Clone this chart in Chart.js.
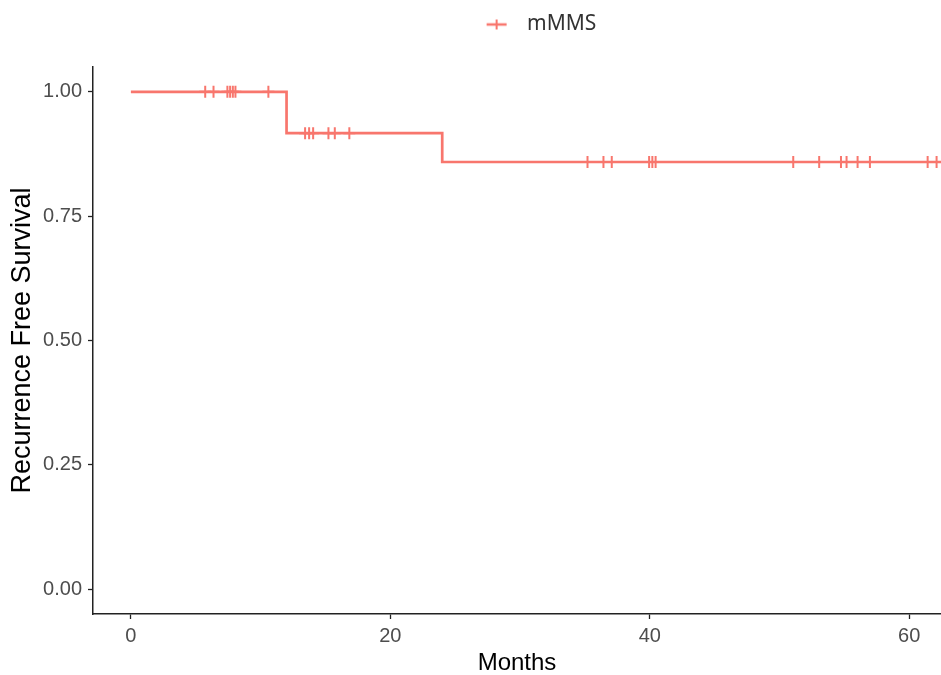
<!DOCTYPE html>
<html>
<head>
<meta charset="utf-8">
<script src="https://cdn.jsdelivr.net/npm/chart.js@4.4.1/dist/chart.umd.min.js"></script>
<style>
  html, body { margin: 0; padding: 0; background: #fff; }
  #km { display: block; }
</style>
</head>
<body>
<canvas id="km" width="941" height="675"></canvas>
<script>
// Kaplan-Meier, mMMS group
const groupName = 'mMMS';
const eventTimes = [0, 12, 24];
const survProb = [1, 0.917, 0.859];
const followUpEnd = 62.5;
const censorTimes = [5.73, 6.37, 7.44, 7.65, 7.86, 8.06, 10.6,
  13.43, 13.74, 14.05, 15.23, 15.72, 16.84,
  35.2, 36.43, 37.07, 39.95, 40.2, 40.45, 51.06, 53.06, 54.74, 55.17, 56.02, 56.97, 61.42, 62.11];
const xTicks = [0, 20, 40, 60];
const yTicks = [0, 0.25, 0.5, 0.75, 1];

const red = '#F8766D';

function survAt(t) {
  let s = survProb[0];
  eventTimes.forEach((et, i) => { if (et <= t) s = survProb[i]; });
  return s;
}

let curve = eventTimes.map((t, i) => ({x: t, y: survProb[i]}));
curve.push({x: followUpEnd, y: survProb[survProb.length - 1]});
let censored = censorTimes.map(t => ({x: t, y: survAt(t)}));

// legend key: line with a cross
const icon = document.createElement('canvas');
icon.width = 40; icon.height = 14;
const ic = icon.getContext('2d');
ic.strokeStyle = red;
ic.lineWidth = 2.5;
ic.beginPath(); ic.moveTo(10, 7); ic.lineTo(30, 7); ic.stroke();
ic.lineWidth = 2;
ic.beginPath(); ic.moveTo(20, 2); ic.lineTo(20, 12); ic.stroke();

const legendSpace = {
  id: 'legendSpace',
  beforeInit(chart) {
    const fit = chart.legend.fit;
    chart.legend.fit = function () {
      fit.bind(chart.legend)();
      this.height += 22;
    };
  },
  afterLayout(chart) {
    chart.legend.left += 66;
    chart.legend.right += 66;
  }
};

const tickFont = {family: 'Liberation Sans, Arial, sans-serif', size: 20};

new Chart(document.getElementById('km'), {
  type: 'line',
  plugins: [legendSpace],
  data: {
    datasets: [{
      label: groupName,
      data: curve,
      borderColor: red,
      backgroundColor: red,
      borderWidth: 2.7,
      stepped: true,
      pointRadius: 0,
      fill: false
    }, {
      label: 'censored',
      data: censored,
      showLine: false,
      pointStyle: 'cross',
      pointRadius: 6,
      pointBorderWidth: 2,
      borderColor: red,
      backgroundColor: red
    }]
  },
  options: {
    responsive: false,
    animation: false,
    layout: {padding: 0, autoPadding: false},
    plugins: {
      tooltip: {enabled: false},
      legend: {
        position: 'top',
        labels: {
          filter: item => item.datasetIndex === 0,
          usePointStyle: true,
          pointStyle: icon,
          pointStyleWidth: 40,
          padding: 14,
          color: '#333',
          font: {family: 'Noto Sans, sans-serif', size: 21}
        }
      }
    },
    scales: {
      x: {
        type: 'linear',
        min: -2.92,
        max: 62.45,
        afterBuildTicks: s => { s.ticks = xTicks.map(v => ({value: v})); },
        afterFit: s => { s.height = 61; s.paddingLeft = 0; s.paddingRight = 0; },
        grid: {drawOnChartArea: false, drawTicks: true, tickLength: 5, color: '#222', tickWidth: 1.3},
        border: {display: true, color: '#222', width: 1.5},
        ticks: {color: '#4D4D4D', font: tickFont, padding: 5, maxRotation: 0},
        title: {display: true, text: 'Months', color: '#000',
          font: {family: 'Liberation Sans, Arial, sans-serif', size: 24}, padding: {top: 0, bottom: -3}}
      },
      y: {
        type: 'linear',
        min: -0.05,
        max: 1.05,
        afterBuildTicks: s => { s.ticks = yTicks.map(v => ({value: v})); },
        afterFit: s => { s.width = 93; },
        grid: {drawOnChartArea: false, drawTicks: true, tickLength: 5, color: '#222', tickWidth: 1.3},
        border: {display: true, color: '#222', width: 1.5},
        ticks: {color: '#4D4D4D', font: tickFont, padding: 6, callback: v => v.toFixed(2)},
        title: {display: true, text: 'Recurrence Free Survival', color: '#000',
          font: {family: 'Liberation Sans, Arial, sans-serif', size: 27}, padding: {top: 6, bottom: 0}}
      }
    }
  }
});
</script>
</body>
</html>
